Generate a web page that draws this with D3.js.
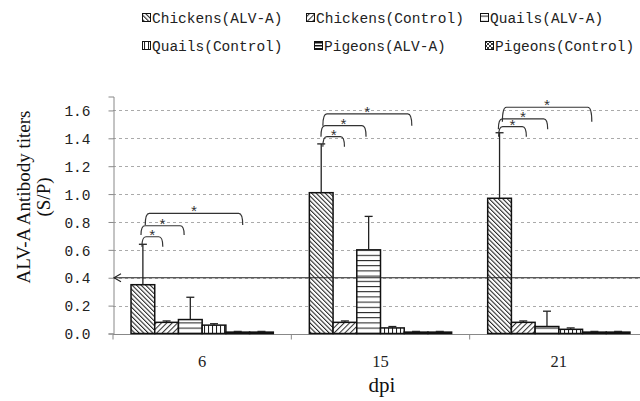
<!DOCTYPE html>
<html><head><meta charset="utf-8">
<script src="https://cdn.jsdelivr.net/npm/d3@7/dist/d3.min.js"></script>
<style>body{margin:0;background:#fff}svg{display:block}</style>
</head><body><svg id="c" width="640" height="401"></svg>
<script>
const categories = ["6", "15", "21"];
const seriesNames = ["Chickens(ALV-A)", "Chickens(Control)", "Quails(ALV-A)", "Quails(Control)", "Pigeons(ALV-A)", "Pigeons(Control)"];
const chickensALV = [0.35, 1.01, 0.97];
const chickensALVsd = [0.29, 0.35, 0.47];
const chickensCtl = [0.08, 0.08, 0.08];
const chickensCtlsd = [0.01, 0.01, 0.01];
const quailsALV = [0.10, 0.60, 0.05];
const quailsALVsd = [0.16, 0.24, 0.11];
const quailsCtl = [0.06, 0.04, 0.03];
const quailsCtlsd = [0.01, 0.01, 0.01];
const pigeonsALV = [0.01, 0.01, 0.01];
const pigeonsALVsd = [0.005, 0.005, 0.005];
const pigeonsCtl = [0.01, 0.01, 0.01];
const pigeonsCtlsd = [0.005, 0.005, 0.005];
const yTicks = [0, 0.2, 0.4, 0.6, 0.8, 1.0, 1.2, 1.4, 1.6];
const cutoff = 0.4;
// significance brackets: group, bracket top value, leg bottom value, ends (in bar units from first bar)
const bracketGroup = ["6", "6", "6", "15", "15", "15", "21", "21", "21"];
const bracketTop = [0.694, 0.773, 0.862, 1.412, 1.491, 1.575, 1.484, 1.539, 1.623];
const bracketBottom = [0.623, 0.707, 0.778, 1.340, 1.412, 1.491, 1.412, 1.465, 1.519];
const bracketRight = [1.34, 2.24, 4.71, 1.48, 2.39, 4.32, 1.63, 2.53, 4.39];
const bracketLeft = [0.46, 0.42, 0.6, 0.57, 0.49, 0.57, 0.46, 0.45, 0.62];

const values = [chickensALV, chickensCtl, quailsALV, quailsCtl, pigeonsALV, pigeonsCtl];
const sds = [chickensALVsd, chickensCtlsd, quailsALVsd, quailsCtlsd, pigeonsALVsd, pigeonsCtlsd];

const svg = d3.select("#c");
const x0 = d3.scaleBand().domain(categories).range([113, 648]).paddingInner(0).paddingOuter(0);
const x1 = d3.scaleBand().domain(d3.range(seriesNames.length)).range([0, x0.bandwidth()]).paddingInner(0).paddingOuter(0.76);
const y = d3.scaleLinear().domain([0, 1.7]).range([333.5, 96.5]);

// patterns
const defs = svg.append("defs");
function linePattern(id, spacing, angle, sw, color) {
  const p = defs.append("pattern").attr("id", id).attr("patternUnits", "userSpaceOnUse")
    .attr("width", spacing).attr("height", spacing).attr("patternTransform", `rotate(${angle})`);
  p.append("rect").attr("width", spacing).attr("height", spacing).attr("fill", "#fff");
  p.append("line").attr("x1", 0.5).attr("y1", 0).attr("x2", 0.5).attr("y2", spacing)
    .attr("stroke", color).attr("stroke-width", sw);
}
linePattern("p0", 3.2, -45, 1.1, "#222");
linePattern("p1", 3.8, 45, 1.1, "#333");
linePattern("p2", 5.2, 90, 1.1, "#222");
linePattern("p3", 4, 0, 1.1, "#222");
linePattern("p4", 3, 90, 2, "#111");
(function(){
  const p = defs.append("pattern").attr("id", "p5").attr("patternUnits", "userSpaceOnUse").attr("width", 4).attr("height", 4);
  p.append("rect").attr("width", 4).attr("height", 4).attr("fill", "#fff");
  p.append("path").attr("d", "M0,0L4,4M4,0L0,4").attr("stroke", "#222").attr("stroke-width", 0.9);
})();

// gridlines
svg.append("g").selectAll("line").data(yTicks.filter(d => d > 0)).join("line")
  .attr("x1", 113).attr("x2", 640).attr("y1", d => Math.round(y(d)) + 0.5).attr("y2", d => Math.round(y(d)) + 0.5)
  .attr("stroke", "#aaa").attr("stroke-width", 1).attr("stroke-dasharray", "3,3");

// y axis
const yAxis = svg.append("g").attr("transform", "translate(113.5,0)")
  .call(d3.axisLeft(y).tickValues(yTicks).tickSize(5).tickPadding(18).tickFormat(d3.format(".1f")));
yAxis.select(".domain").attr("stroke", "#888");
yAxis.selectAll(".tick line").attr("stroke", "#888");
yAxis.selectAll(".tick text").attr("font-family", "Liberation Mono, monospace").attr("font-size", 14.5).attr("fill", "#222")
  .attr("dx", 0).attr("dy", "0.36em");

// x axis
const xAxisG = svg.append("g").attr("transform", `translate(0,${Math.round(y(0)) + 0.5})`);
xAxisG.append("line").attr("x1", 113).attr("x2", 648).attr("stroke", "#888");
xAxisG.selectAll("line.t").data([113, ...categories.map(c => x0(c) + x0.bandwidth())]).join("line")
  .attr("class", "t").attr("x1", d => d).attr("x2", d => d).attr("y1", 0).attr("y2", 5).attr("stroke", "#888");
xAxisG.selectAll("text").data(categories).join("text")
  .attr("x", d => x0(d) + x0.bandwidth() / 2).attr("y", 32).attr("text-anchor", "middle")
  .attr("font-family", "Liberation Serif, serif").attr("font-size", 16.5).attr("fill", "#222").text(d => d);

// bars
const bars = [];
categories.forEach((c, ci) => values.forEach((vals, si) => bars.push({c, si, v: vals[ci], sd: sds[si][ci]})));
svg.append("g").selectAll("rect").data(bars).join("rect")
  .attr("x", d => x0(d.c) + x1(d.si)).attr("width", x1.bandwidth())
  .attr("y", d => y(d.v)).attr("height", d => y(0) - y(d.v))
  .attr("fill", d => `url(#p${d.si})`).attr("stroke", "#111").attr("stroke-width", 1.5);

// error bars
const eg = svg.append("g").attr("stroke", "#222").attr("stroke-width", 1.3);
eg.selectAll("line.v").data(bars).join("line").attr("class", "v")
  .attr("x1", d => x0(d.c) + x1(d.si) + x1.bandwidth() / 2).attr("x2", d => x0(d.c) + x1(d.si) + x1.bandwidth() / 2)
  .attr("y1", d => y(d.v)).attr("y2", d => y(d.v + d.sd));
eg.selectAll("line.h").data(bars).join("line").attr("class", "h")
  .attr("x1", d => x0(d.c) + x1(d.si) + x1.bandwidth() / 2 - 4).attr("x2", d => x0(d.c) + x1(d.si) + x1.bandwidth() / 2 + 4)
  .attr("y1", d => y(d.v + d.sd)).attr("y2", d => y(d.v + d.sd));

// cutoff line with arrow
svg.append("line").attr("x1", 114).attr("x2", 640).attr("y1", y(cutoff)).attr("y2", y(cutoff))
  .attr("stroke", "#222").attr("stroke-width", 1.2);
svg.append("path").attr("d", `M${121},${y(cutoff) - 4}L${114},${y(cutoff)}L${121},${y(cutoff) + 4}`)
  .attr("fill", "none").attr("stroke", "#222").attr("stroke-width", 1.1);

// brackets
const bw = x1.bandwidth();
const bg = svg.append("g");
bracketGroup.forEach((g, i) => {
  const start = x0(g) + x1(0);
  const xl = start + bracketLeft[i] * bw, xr = start + bracketRight[i] * bw;
  const yt = y(bracketTop[i]), yb = y(bracketBottom[i]);
  bg.append("path").attr("d", `M${xl},${yb}Q${xl},${yt} ${xl + 4},${yt}L${xr - 4},${yt}Q${xr},${yt} ${xr},${yb}`)
    .attr("fill", "none").attr("stroke", "#333").attr("stroke-width", 1.2);
  bg.append("text").attr("x", (xl + xr) / 2).attr("y", yt + 4).attr("text-anchor", "middle")
    .attr("font-family", "Liberation Mono, monospace").attr("font-size", 15).attr("fill", "#333").text("*");
});

// axis titles
svg.append("text").attr("transform", "translate(30,197) rotate(-90)").attr("text-anchor", "middle")
  .attr("font-family", "Liberation Serif, serif").attr("font-size", 19).attr("fill", "#111").text("ALV-A Antibody titers");
svg.append("text").attr("transform", "translate(50,197) rotate(-90)").attr("text-anchor", "middle")
  .attr("font-family", "Liberation Serif, serif").attr("font-size", 19).attr("fill", "#111").text("(S/P)");
svg.append("text").attr("x", 382).attr("y", 392).attr("text-anchor", "middle")
  .attr("font-family", "Liberation Serif, serif").attr("font-size", 21).attr("fill", "#111").text("dpi");

// legend
const legX = [142, 306, 480, 142, 314, 485];
const legY = [23, 23, 23, 51, 51, 51];
const lg = svg.append("g");
seriesNames.forEach((n, i) => {
  lg.append("rect").attr("x", legX[i] + 0.5).attr("y", legY[i] - 9.5).attr("width", 8).attr("height", 8)
    .attr("fill", `url(#p${i})`).attr("stroke", "#111").attr("stroke-width", 1);
  lg.append("text").attr("x", legX[i] + 10).attr("y", legY[i]).attr("font-family", "Liberation Mono, monospace")
    .attr("font-size", 14.5).attr("fill", "#222").text(n);
});
</script></body></html>
